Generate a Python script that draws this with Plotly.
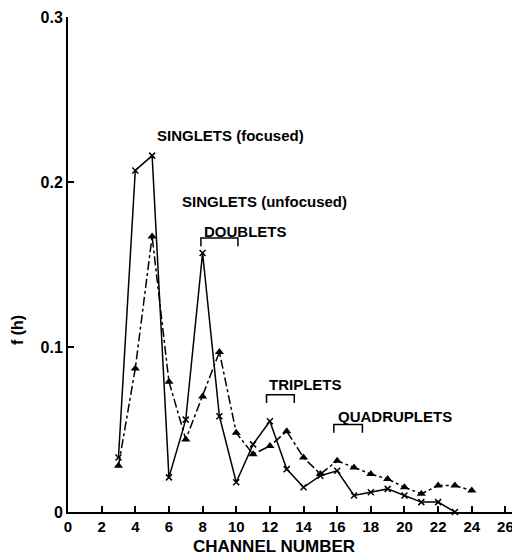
import plotly.graph_objects as go

channels_focused = [3, 4, 5, 6, 7, 8, 9, 10, 11, 12, 13, 14, 15, 16, 17, 18, 19, 20, 21, 22, 23]
f_focused = [0.033, 0.207, 0.216, 0.021, 0.056, 0.157, 0.058, 0.018, 0.041, 0.055, 0.026, 0.015,
             0.022, 0.025, 0.010, 0.012, 0.014, 0.010, 0.006, 0.006, 0.0]

channels_unfocused = [3, 4, 5, 6, 7, 8, 9, 10, 11, 12, 13, 14, 15, 16, 17, 18, 19, 20, 21, 22, 23, 24]
f_unfocused = [0.028, 0.087, 0.167, 0.079, 0.044, 0.070, 0.097, 0.048, 0.035, 0.040, 0.049, 0.033,
               0.023, 0.031, 0.027, 0.023, 0.020, 0.015, 0.011, 0.016, 0.016, 0.013]

x_ticks = list(range(0, 27, 2))
y_ticks = [0, 0.1, 0.2, 0.3]
y_tick_labels = ["0", "0.1", "0.2", "0.3"]

FONT = "Liberation Sans"

fig = go.Figure()
fig.add_trace(go.Scatter(
    x=channels_unfocused, y=f_unfocused, mode="lines+markers",
    line=dict(color="black", width=1.5, dash="dashdot"),
    marker=dict(symbol="triangle-up", size=8, color="black"),
    name="SINGLETS (unfocused)", showlegend=False, cliponaxis=False))
fig.add_trace(go.Scatter(
    x=channels_focused, y=f_focused, mode="lines+markers",
    line=dict(color="black", width=1.5),
    marker=dict(symbol="x-thin", size=6, color="black", line=dict(width=1.5, color="black")),
    name="SINGLETS (focused)", showlegend=False, cliponaxis=False))

ann_font = dict(family=FONT, size=15, color="black")
labels = [
    ("SINGLETS (focused)", 5.15, 0.228),
    ("SINGLETS (unfocused)", 6.65, 0.188),
    ("DOUBLETS", 7.95, 0.170),
    ("TRIPLETS", 11.8, 0.077),
    ("QUADRUPLETS", 15.9, 0.058),
]
for text, x, y in labels:
    fig.add_annotation(x=x, y=y, text="<b>%s</b>" % text, showarrow=False,
                       xanchor="left", yanchor="middle", font=ann_font)

brackets = [(7.9, 10.1, 0.166, 0.161), (11.8, 13.45, 0.071, 0.066), (15.8, 17.5, 0.053, 0.048)]
for x0, x1, ytop, ybot in brackets:
    fig.add_shape(type="path",
                  path="M %f %f L %f %f L %f %f L %f %f" % (x0, ybot, x0, ytop, x1, ytop, x1, ybot),
                  line=dict(color="black", width=1.5))

# axis titles placed in paper coordinates
fig.add_annotation(xref="paper", yref="paper", x=0.463, y=-0.069, text="<b>CHANNEL NUMBER</b>",
                   showarrow=False, xanchor="center", yanchor="middle",
                   font=dict(family=FONT, size=17, color="black"))
fig.add_annotation(xref="paper", yref="paper", x=-0.112, y=0.368, text="<b>f (h)</b>",
                   showarrow=False, xanchor="center", yanchor="middle", textangle=-90,
                   font=dict(family=FONT, size=16, color="black"))

# page body has an 8px default margin, so the figure is sized to fit the 520x555 window
fig.update_layout(
    width=512, height=547,
    margin=dict(l=60, r=7, t=9, b=43),
    paper_bgcolor="white", plot_bgcolor="white",
    font=dict(family=FONT, color="black"),
)
fig.update_xaxes(
    range=[0, 26.45], tickvals=x_ticks, ticktext=["<b>%d</b>" % v for v in x_ticks],
    ticks="inside", ticklen=6, tickwidth=1.5, tickcolor="black",
    showline=True, linecolor="black", linewidth=2, showgrid=False, zeroline=False,
    tickfont=dict(family=FONT, size=15, color="black"), automargin=False,
)
fig.update_yaxes(
    range=[0, 0.3], tickvals=y_ticks, ticktext=["<b>%s</b>" % t for t in y_tick_labels],
    ticks="inside", ticklen=6, tickwidth=1.5, tickcolor="black",
    showline=True, linecolor="black", linewidth=2, showgrid=False, zeroline=False,
    tickfont=dict(family=FONT, size=16, color="black"), automargin=False,
)

fig.write_html("out.html")
